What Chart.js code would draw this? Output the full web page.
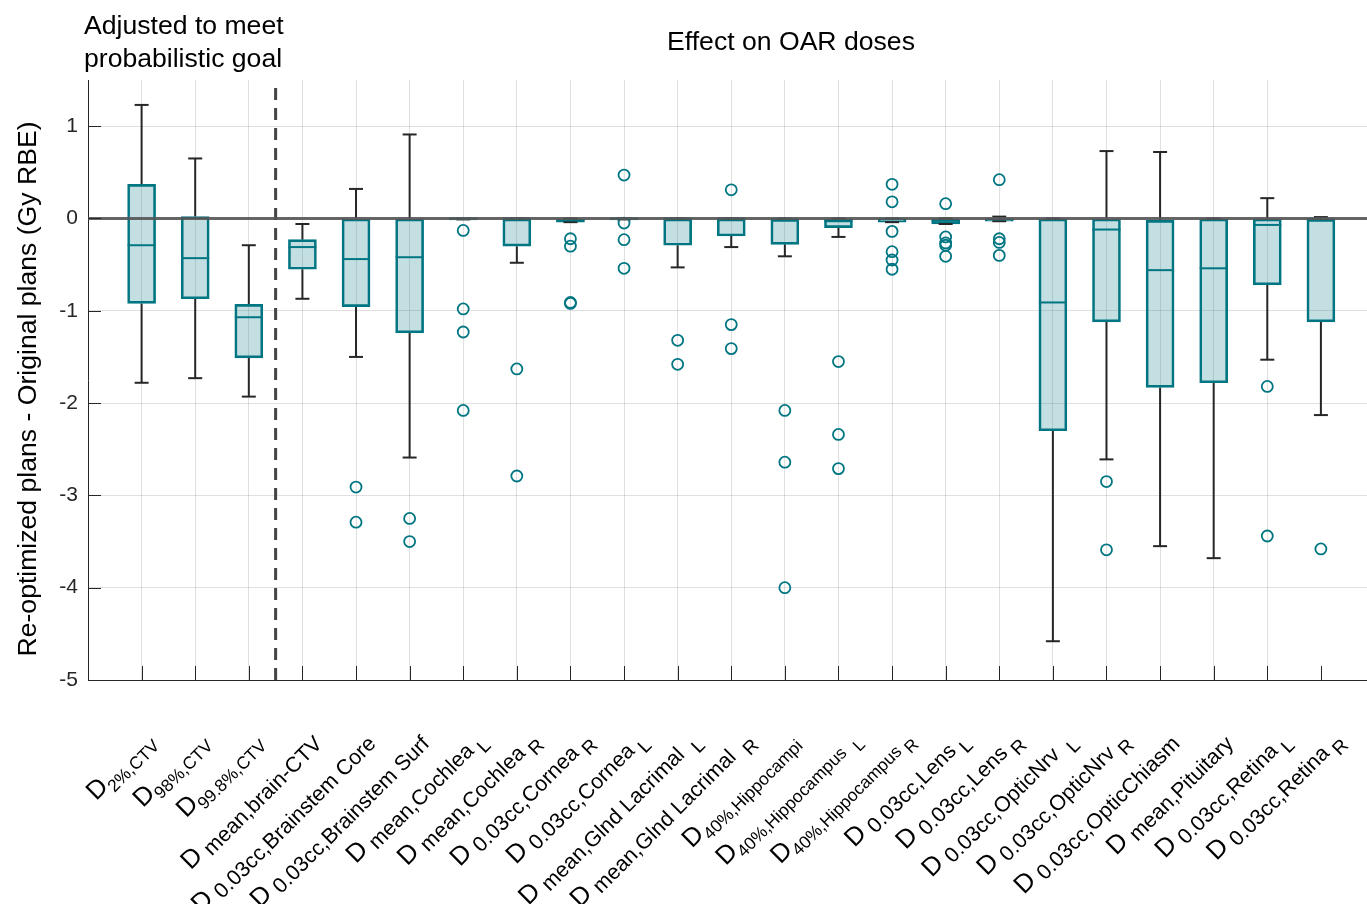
<!DOCTYPE html>
<html>
<head>
<meta charset="utf-8">
<script src="https://cdn.jsdelivr.net/npm/chart.js@4.4.1/dist/chart.umd.min.js"></script>
<style>
  html, body { margin: 0; padding: 0; background: #fff; overflow: hidden; }
</style>
</head>
<body>
<canvas id="chart" width="1367" height="904"></canvas>
<script>
// ------------------------------------------------------------
//  Re-optimized vs original plans, box plot per dose metric
// ------------------------------------------------------------

// tick labels: "D" + subscript + optional side (L / R)
// small = true: tight TeX subscript, false: spaced, larger text
const tickSub = [
  '2%,CTV', '98%,CTV', '99.8%,CTV', 'mean,brain-CTV',
  '0.03cc,Brainstem Core', '0.03cc,Brainstem Surf',
  'mean,Cochlea', 'mean,Cochlea', '0.03cc,Cornea', '0.03cc,Cornea',
  'mean,Glnd Lacrimal', 'mean,Glnd Lacrimal',
  '40%,Hippocampi', '40%,Hippocampus', '40%,Hippocampus',
  '0.03cc,Lens', '0.03cc,Lens', '0.03cc,OpticNrv', '0.03cc,OpticNrv',
  '0.03cc,OpticChiasm', 'mean,Pituitary', '0.03cc,Retina', '0.03cc,Retina'
];
const tickSmall = [true, true, true, false, false, false, false, false, false, false, false, false,
                   true, true, true, false, false, false, false, false, false, false, false];
const tickSide = [
  '', '', '', '', '', '',
  ' L', ' R', ' R', ' L', '  L', '  R',
  '', '  L', ' R', ' L', ' R', '  L', ' R',
  '', '', ' L', ' R'
];

// box statistics (Gy RBE)
const whiskLo = [-1.78, -1.73, -1.93, -0.87, -1.50, -2.59, -0.01, -0.48, -0.04, -0.01, -0.53, -0.31,
                 -0.41, -0.20, -0.04, -0.06, -0.03, -4.58, -2.61, -3.55, -3.68, -1.53, -2.13];
const q1      = [-0.92, -0.87, -1.51, -0.55, -0.955, -1.24, -0.015, -0.30, -0.04, -0.015, -0.29, -0.19,
                 -0.28, -0.10, -0.04, -0.06, -0.03, -2.30, -1.12, -1.83, -1.78, -0.72, -1.12];
const median  = [-0.29, -0.43, -1.07, -0.31, -0.44, -0.42, 0, 0, -0.02, 0, 0, 0,
                 -0.01, -0.03, -0.01, -0.025, -0.01, -0.91, -0.12, -0.56, -0.54, -0.07, -0.01];
const q3      = [0.37, 0.02, -0.93, -0.23, 0, 0, 0, 0, 0, 0, 0, 0,
                 -0.01, -0.01, 0, 0, 0, 0, 0, -0.02, 0, 0, -0.01];
const whiskHi = [1.23, 0.65, -0.29, -0.06, 0.32, 0.91, 0, 0, 0, 0, 0, 0,
                 0.0, 0, 0, 0, 0.02, 0, 0.73, 0.72, 0, 0.22, 0.015];
const outliers = [
  [], [], [], [],
  [-2.91, -3.29],
  [-3.25, -3.50],
  [-0.13, -0.98, -1.23, -2.08],
  [-1.63, -2.79],
  [-0.22, -0.30, -0.91, -0.92],
  [0.47, -0.05, -0.23, -0.54],
  [-1.32, -1.58],
  [0.31, -1.15, -1.41],
  [-2.08, -2.64, -4.00],
  [-1.55, -2.34, -2.71],
  [0.37, 0.18, -0.14, -0.36, -0.45, -0.55],
  [0.16, -0.20, -0.265, -0.29, -0.41],
  [0.42, -0.22, -0.26, -0.40],
  [],
  [-2.85, -3.59],
  [],
  [],
  [-1.82, -3.44],
  [-3.58]
];

const TEAL = 'rgb(0,118,130)';
const FILL = 'rgba(0,118,130,0.23)';
const DARK = '#262626';
const GRID = 'rgba(0,0,0,0.12)';
const NONE = 'rgba(0,0,0,0)';
const FONT = '"Liberation Sans", Arial, Helvetica, sans-serif';

const pos = tickSub.map((_, i) => i + 1);

const boxes = pos.map((x, i) => ({ x: x, y: [q1[i], q3[i]] }));
const medians = pos.map((x, i) => ({ x: x, y: median[i] }));
const caps = pos.flatMap((x, i) => [{ x: x, y: whiskHi[i] }, { x: x, y: whiskLo[i] }]);
const whiskers = pos.flatMap((x, i) => [
  { x: x, y: q3[i] }, { x: x, y: whiskHi[i] }, { x: x, y: null },
  { x: x, y: q1[i] }, { x: x, y: whiskLo[i] }, { x: x, y: null }
]);
const fliers = pos.flatMap((x, i) => outliers[i].map(v => ({ x: x, y: v })));

function gridColor(ctx, skipZero) {
  if (!ctx.tick) return NONE;
  const v = ctx.tick.value;
  if (!Number.isInteger(v)) return NONE;
  if (skipZero && v === 0) return NONE;
  return GRID;
}

function drawTickLabel(ctx, px, py, i) {
  const small = tickSmall[i];
  const fD = 26, fS = small ? 17.5 : 21.5, fT = small ? 17 : 19;
  const dyS = small ? 7 : 5, dyT = small ? 7 : 8;
  const lead = small ? '' : ' ';
  ctx.save();
  ctx.translate(px, py);
  ctx.rotate(-Math.PI / 4);
  ctx.font = fD + 'px ' + FONT;
  const wD = ctx.measureText('D').width;
  ctx.font = fS + 'px ' + FONT;
  const wS = ctx.measureText(lead + tickSub[i]).width;
  ctx.font = fT + 'px ' + FONT;
  const wT = ctx.measureText(tickSide[i]).width;
  // origin = top right of the last piece
  let baseS, xEnd;
  if (tickSide[i]) {
    const baseT = 0.716 * fT;
    baseS = baseT - dyT;
    xEnd = -wT;
    ctx.fillText(tickSide[i], xEnd, baseT);
  } else {
    baseS = 0.716 * fS;
    xEnd = 0;
  }
  ctx.font = fS + 'px ' + FONT;
  ctx.fillText(lead + tickSub[i], xEnd - wS, baseS);
  ctx.font = fD + 'px ' + FONT;
  ctx.fillText('D', xEnd - wS - wD, baseS - dyS);
  ctx.restore();
}

// titles, rotated tick labels and inward tick marks
const decorPlugin = {
  id: 'decor',
  afterDraw(chart) {
    const ctx = chart.ctx;
    const xs = chart.scales.x, ys = chart.scales.y;
    const area = chart.chartArea;

    ctx.save();
    ctx.strokeStyle = DARK;
    ctx.lineWidth = 1;
    pos.forEach(v => {
      const px = Math.round(xs.getPixelForValue(v)) + 0.5;
      ctx.beginPath();
      ctx.moveTo(px, area.bottom);
      ctx.lineTo(px, area.bottom - 14);
      ctx.stroke();
    });
    for (let v = -5; v <= 1; v++) {
      const py = Math.round(ys.getPixelForValue(v)) + 0.5;
      ctx.beginPath();
      ctx.moveTo(area.left, py);
      ctx.lineTo(area.left + 13, py);
      ctx.stroke();
    }

    ctx.fillStyle = '#000';
    ctx.textBaseline = 'alphabetic';
    ctx.font = '26.6px ' + FONT;
    ctx.textAlign = 'left';
    ctx.fillText('Adjusted to meet', 84, 34);
    ctx.fillText('probabilistic goal', 84, 67);
    ctx.textAlign = 'center';
    ctx.fillText('Effect on OAR doses', 791, 50);

    ctx.save();
    ctx.translate(36, 389);
    ctx.rotate(-Math.PI / 2);
    ctx.font = '26.6px ' + FONT;
    ctx.fillText('Re-optimized plans - Original plans (Gy RBE)', 0, 0);
    ctx.restore();

    ctx.textAlign = 'left';
    ctx.fillStyle = '#000';
    pos.forEach((v, i) => {
      const px = xs.getPixelForValue(v);
      if (tickSide[i]) drawTickLabel(ctx, px + 19, 737, i);
      else drawTickLabel(ctx, px + 10, tickSmall[i] ? 738 : 734, i);
    });
    ctx.restore();
  }
};

new Chart(document.getElementById('chart'), {
  type: 'bar',
  data: {
    datasets: [
      {
        type: 'line', data: [{ x: 0, y: 0 }, { x: 24, y: 0 }],
        borderColor: 'rgba(85,85,85,0.9)', borderWidth: 3, pointRadius: 0, order: 0
      },
      {
        type: 'line', data: [{ x: 3.5, y: -5 }, { x: 3.5, y: 1.5 }],
        borderColor: '#444', borderWidth: 3, borderDash: [12, 8], pointRadius: 0, order: 0
      },
      {
        type: 'scatter', data: fliers, pointStyle: 'circle', pointRadius: 5.5,
        pointBorderWidth: 1.8, pointBackgroundColor: NONE, pointBorderColor: TEAL, order: 1
      },
      {
        type: 'scatter', data: medians, pointStyle: 'line', pointRadius: 14,
        pointBorderWidth: 2, pointBorderColor: TEAL, order: 2
      },
      {
        type: 'scatter', data: caps, pointStyle: 'line', pointRadius: 7,
        pointBorderWidth: 2, pointBorderColor: DARK, order: 2
      },
      {
        type: 'bar', data: boxes, backgroundColor: FILL, borderColor: TEAL,
        borderWidth: 2, borderSkipped: false, barThickness: 28, order: 3
      },
      {
        type: 'line', data: whiskers, borderColor: DARK, borderWidth: 2,
        pointRadius: 0, spanGaps: false, order: 4
      }
    ]
  },
  options: {
    responsive: false,
    animation: false,
    events: [],
    layout: { autoPadding: false, padding: { top: 80, bottom: 224, left: 0, right: 0 } },
    plugins: { legend: { display: false }, tooltip: { enabled: false } },
    scales: {
      x: {
        type: 'linear', min: 0, max: 23.86, offset: false, z: 1,
        ticks: { display: false, stepSize: 1 },
        grid: { drawTicks: false, offset: false, color: ctx => gridColor(ctx, true) },
        border: { display: true, color: DARK, width: 1 },
        afterFit: s => { s.height = 0; }
      },
      y: {
        type: 'linear', min: -5, max: 1.5, z: 1,
        ticks: {
          stepSize: 1, padding: 10, color: DARK,
          font: { family: FONT, size: 21 },
          callback: v => Number.isInteger(v) ? String(v) : ''
        },
        grid: { drawTicks: false, color: ctx => gridColor(ctx, false) },
        border: { display: true, color: DARK, width: 1 },
        afterFit: s => { s.width = 88; }
      }
    }
  },
  plugins: [decorPlugin]
});
</script>
</body>
</html>
